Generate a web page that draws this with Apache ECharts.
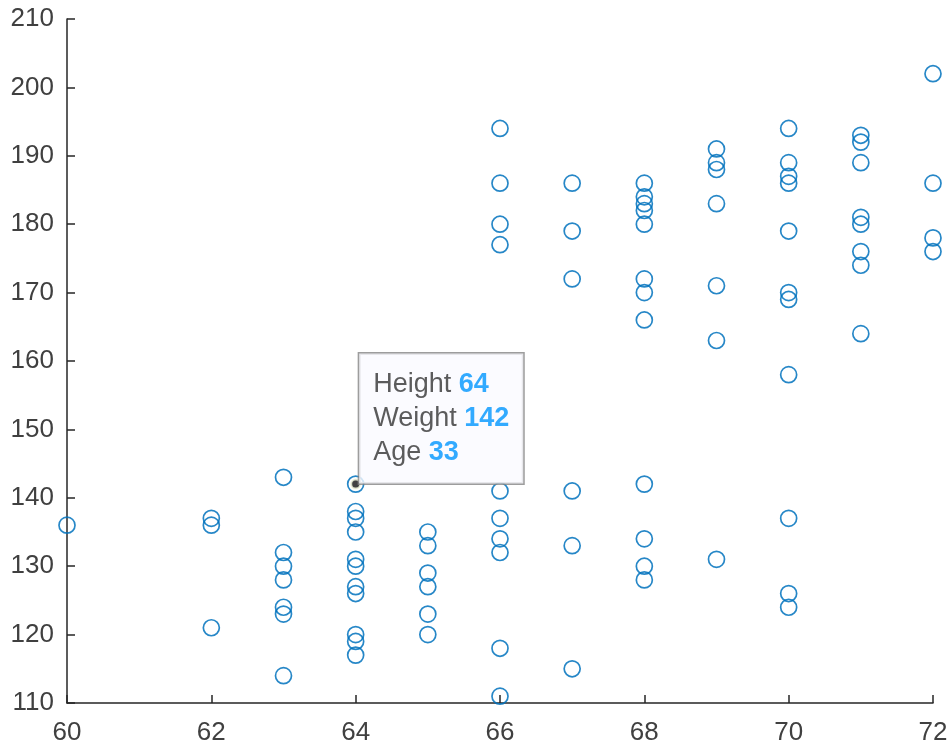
<!DOCTYPE html>
<html>
<head>
<meta charset="utf-8">
<script src="https://cdn.jsdelivr.net/npm/echarts@6/dist/echarts.min.js"></script>
<style>
html,body{margin:0;padding:0;background:#fff;}
#chart{width:952px;height:746px;}
</style>
</head>
<body>
<div id="chart"></div>
<script>
// Height (in) and Weight (lb) of each patient
const heights = [
  60,
  62,62,62,
  63,63,63,63,63,63,63,
  64,64,64,64,64,64,64,64,64,64,64,
  65,65,65,65,65,65,
  66,66,66,66,66,66,66,66,66,66,
  67,67,67,67,67,67,
  68,68,68,68,68,68,68,68,68,68,68,68,
  69,69,69,69,69,69,69,
  70,70,70,70,70,70,70,70,70,70,70,
  71,71,71,71,71,71,71,71,
  72,72,72,72
];
const weights = [
  136,
  137,136,121,
  143,132,130,128,124,123,114,
  142,138,137,135,131,130,127,126,120,119,117,
  135,133,129,127,123,120,
  194,186,180,177,141,137,134,132,118,111,
  186,179,172,141,133,115,
  186,184,183,182,180,172,170,166,142,134,130,128,
  191,189,188,183,171,163,131,
  194,189,187,186,179,170,169,158,137,126,124,
  193,192,189,181,180,176,174,164,
  202,186,178,176
];
// Data tip
const tipLabels = ['Height', 'Weight', 'Age'];
const tipValues = [64, 142, 33];

const xTicks = [60, 62, 64, 66, 68, 70, 72];
const yTicks = [110, 120, 130, 140, 150, 160, 170, 180, 190, 200, 210];

const points = heights.map((h, i) => [h, weights[i]]);
const tipText = tipLabels.map((l, i) => '{n|' + l + ' }{v|' + tipValues[i] + '}').join('\n');

const axisColor = '#262626';
const textColor = '#404040';
const font = 'Liberation Sans, Arial, Helvetica, sans-serif';

const chart = echarts.init(document.getElementById('chart'), null, {renderer: 'canvas'});
chart.setOption({
  animation: false,
  backgroundColor: '#ffffff',
  grid: {left: 67, right: 19, top: 19, bottom: 43, containLabel: false},
  xAxis: {
    type: 'value',
    min: xTicks[0], max: xTicks[xTicks.length - 1], interval: 2,
    splitLine: {show: false},
    axisLine: {show: true, onZero: false, lineStyle: {color: axisColor, width: 1.5}},
    axisTick: {show: true, inside: true, length: 8, lineStyle: {color: axisColor, width: 1.5}},
    axisLabel: {color: textColor, fontSize: 26, fontFamily: font, margin: 17}
  },
  yAxis: {
    type: 'value',
    min: yTicks[0], max: yTicks[yTicks.length - 1], interval: 10,
    splitLine: {show: false},
    axisLine: {show: true, onZero: false, lineStyle: {color: axisColor, width: 1.5}},
    axisTick: {show: true, inside: true, length: 8, lineStyle: {color: axisColor, width: 1.5}},
    axisLabel: {color: textColor, fontSize: 26, fontFamily: font, margin: 13}
  },
  series: [
    {
      type: 'scatter',
      data: points,
      symbol: 'circle',
      symbolSize: 16,
      itemStyle: {color: 'rgba(0,0,0,0)', borderColor: '#0072BD', borderWidth: 1.7, opacity: 0.85}
    },
    {
      type: 'scatter',
      data: [[tipValues[0], tipValues[1]]],
      symbol: 'circle',
      symbolSize: 9,
      z: 5,
      itemStyle: {color: '#111111', borderColor: '#eef2d8', borderWidth: 2},
      label: {
        show: true,
        position: [9, 5],
        align: 'left',
        verticalAlign: 'bottom',
        formatter: tipText,
        backgroundColor: '#fafaff',
        borderColor: '#858585',
        borderWidth: 1.5,
        padding: [14, 14, 14, 14],
        lineHeight: 34,
        rich: {
          n: {color: '#333333', fontSize: 27, fontFamily: font, lineHeight: 34},
          v: {color: '#0096ff', fontSize: 27, fontWeight: 'bold', fontFamily: font, lineHeight: 34}
        }
      }
    }
  ]
});
</script>
</body>
</html>
